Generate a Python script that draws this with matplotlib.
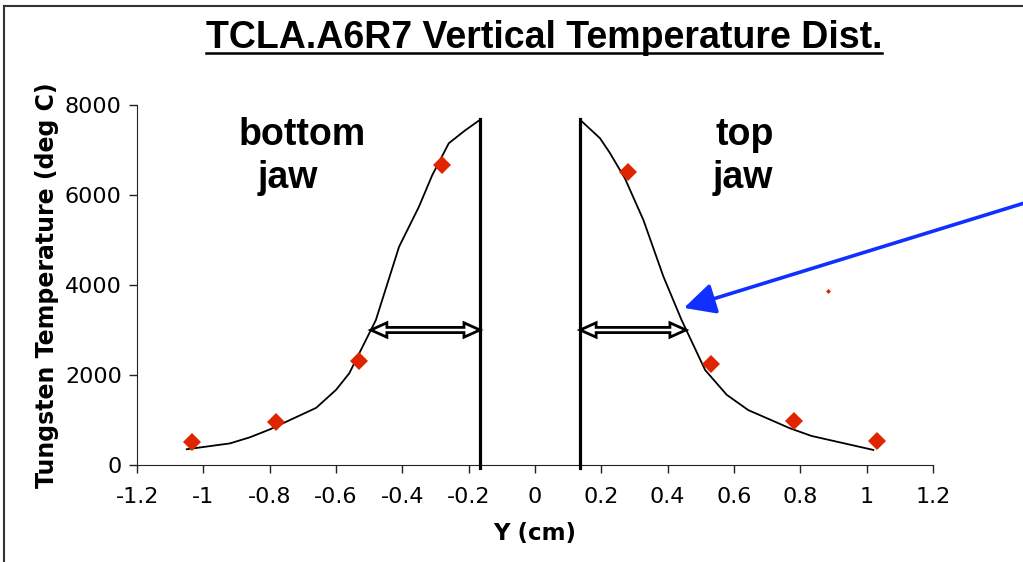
import matplotlib
matplotlib.use('Agg')
import matplotlib.pyplot as plt
from matplotlib.patches import FancyArrowPatch, Polygon
from matplotlib.lines import Line2D
from matplotlib.transforms import IdentityTransform

# measured points (red diamonds)
meas_y = [-1.035, -0.78, -0.53, -0.28, 0.28, 0.53, 0.78, 1.03]
meas_t = [500, 950, 2310, 6660, 6500, 2240, 985, 540]

# calculated profile, bottom jaw
bot_y = [-1.05, -0.92, -0.86, -0.80, -0.66, -0.60, -0.56, -0.52, -0.48, -0.41, -0.35, -0.31, -0.26, -0.21, -0.166]
bot_t = [350, 480, 615, 790, 1270, 1670, 2040, 2630, 3220, 4850, 5740, 6440, 7150, 7440, 7670]

# calculated profile, top jaw
top_y = [0.136, 0.196, 0.226, 0.271, 0.327, 0.387, 0.442, 0.513, 0.578, 0.643, 0.769, 0.834, 1.02]
top_t = [7670, 7260, 6930, 6370, 5440, 4190, 3220, 2110, 1560, 1220, 815, 645, 335]

# jaw surfaces
jaw_pos = [-0.166, 0.136]
jaw_top = 7680

# width markers at 3000 deg
span_t = 3000
spans = [(-0.495, -0.166), (0.136, 0.455)]

xticks = [-1.2, -1, -0.8, -0.6, -0.4, -0.2, 0, 0.2, 0.4, 0.6, 0.8, 1, 1.2]
yticks = [0, 2000, 4000, 6000, 8000]

fig = plt.figure(figsize=(10.23, 5.62), dpi=100)
ax = fig.add_axes([0.134, 0.1726, 0.778, 0.6406])
ax.set_xlim(-1.2, 1.2)
ax.set_ylim(0, 8000)

ax.plot(bot_y, bot_t, color='black', lw=1.3, zorder=3)
ax.plot(top_y, top_t, color='black', lw=1.3, zorder=3)
for jp in jaw_pos:
    ax.plot([jp, jp], [-60, jaw_top], color='black', lw=2.3, clip_on=False, zorder=4)
ax.plot(meas_y, meas_t, 'D', color='#E02400', ms=9.5, mew=0, zorder=5)
ax.plot([0.883], [3870], 'D', color='#E02400', ms=2.5, mew=0)

# hollow double arrows (built in pixel space from data ends)
L, w, t = 16, 7.2, 2.6
for x1, x2 in spans:
    (p1, py), (p2, _) = ax.transData.transform([(x1, span_t), (x2, span_t)])
    verts = [(p1, py), (p1 + L, py + w), (p1 + L, py + t), (p2 - L, py + t), (p2 - L, py + w),
             (p2, py), (p2 - L, py - w), (p2 - L, py - t), (p1 + L, py - t), (p1 + L, py - w)]
    poly = Polygon(verts, closed=True, transform=IdentityTransform(), fc='white', ec='black',
                   lw=2.0, joinstyle='miter', zorder=6)
    fig.add_artist(poly)

# blue pointer arrow
blue = FancyArrowPatch((1.475, 5820), (0.449, 3490), arrowstyle='-|>', mutation_scale=1,
                       color='#1030FF', lw=2.6, clip_on=False, shrinkA=0, shrinkB=0, zorder=8)
blue.set_arrowstyle('-|>', head_length=19, head_width=9.5)
ax.add_patch(blue)

tfont = dict(fontfamily='Liberation Sans', fontweight='bold', fontsize=27, va='baseline')
ax.text(-0.895, 7110, 'bottom', **tfont)
ax.text(-0.835, 6155, 'jaw', **tfont)
ax.text(0.543, 7110, 'top', **tfont)
ax.text(0.537, 6155, 'jaw', **tfont)

ax.set_xticks(xticks)
ax.set_xticklabels([f'{v:g}' for v in xticks])
ax.set_yticks(yticks)
ax.tick_params(axis='x', direction='out', length=6, width=1, labelsize=16, pad=10, colors='#222222', labelcolor='black')
ax.tick_params(axis='y', direction='out', length=6, width=1, labelsize=16, pad=5, colors='#222222', labelcolor='black')
for s in ['top', 'right']:
    ax.spines[s].set_visible(False)
for s in ['left', 'bottom']:
    ax.spines[s].set_color('#222222')
ax.set_xlabel('Y (cm)', fontsize=16.5, fontweight='bold', labelpad=11)
ax.set_ylabel('Tungsten Temperature (deg C)', fontsize=17, fontweight='bold', labelpad=4)

title = fig.text(0.532, 1 - 48 / 562, 'TCLA.A6R7 Vertical Temperature Dist.', ha='center', va='baseline',
                 fontfamily='Liberation Sans', fontweight='bold', fontsize=27)

# outer frame (top and left edge only)
fig.add_artist(Line2D([0.004, 0.004], [0, 0.99], transform=fig.transFigure, color='#333333', lw=1.5))
fig.add_artist(Line2D([0.004, 1], [0.99, 0.99], transform=fig.transFigure, color='#333333', lw=1.5))

# underline title
fig.canvas.draw()
bb = title.get_window_extent().transformed(fig.transFigure.inverted())
fig.add_artist(Line2D([bb.x0, bb.x1], [1 - 53 / 562] * 2, transform=fig.transFigure, color='black', lw=1.8))

fig.savefig('out.png', dpi=100)
